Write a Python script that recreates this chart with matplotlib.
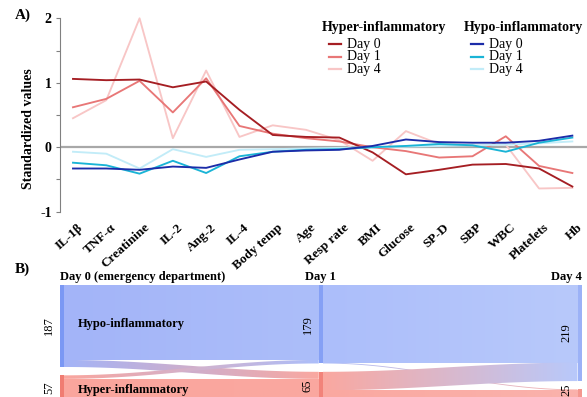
import numpy as np
import matplotlib
matplotlib.use('Agg')
import matplotlib.pyplot as plt
from matplotlib.patches import Polygon, Rectangle
from matplotlib.lines import Line2D
from matplotlib.transforms import ScaledTranslation

plt.rcParams['font.family'] = ['Liberation Serif', 'DejaVu Serif']

# --- data, panel A ---
variables = ['IL-1β', 'TNF-α', 'Creatinine', 'IL-2', 'Ang-2', 'IL-4', 'Body temp', 'Age',
             'Resp rate', 'BMI', 'Glucose', 'SP-D', 'SBP', 'WBC', 'Platelets', 'Hb']
hyper_d0 = [1.06, 1.04, 1.05, 0.93, 1.02, 0.58, 0.19, 0.16, 0.15, -0.08, -0.42, -0.35, -0.27, -0.26, -0.33, -0.61]
hyper_d1 = [0.62, 0.75, 1.03, 0.54, 1.07, 0.33, 0.21, 0.14, 0.09, 0.00, -0.06, -0.16, -0.14, 0.17, -0.29, -0.40]
hyper_d4 = [0.45, 0.73, 2.00, 0.14, 1.19, 0.16, 0.34, 0.27, 0.11, -0.21, 0.25, 0.05, 0.03, 0.04, -0.64, -0.63]
hypo_d0 = [-0.33, -0.33, -0.35, -0.30, -0.32, -0.19, -0.07, -0.05, -0.04, 0.02, 0.12, 0.08, 0.07, 0.07, 0.10, 0.18]
hypo_d1 = [-0.24, -0.28, -0.41, -0.21, -0.40, -0.14, -0.07, -0.04, -0.03, 0.00, 0.02, 0.05, 0.03, -0.07, 0.07, 0.15]
hypo_d4 = [-0.07, -0.10, -0.33, -0.03, -0.15, -0.04, -0.03, -0.02, -0.01, 0.00, 0.01, 0.02, 0.03, 0.04, 0.06, 0.09]

# --- data, panel B ---
day_labels = ['Day 0 (emergency department)', 'Day 1', 'Day 4']
hypo_n = [187, 179, 219]
hyper_n = [57, 65, 25]
# transitions: hypo->hypo, hypo->hyper, hyper->hypo, hyper->hyper
trans_0_1 = [171, 16, 8, 49]
trans_1_4 = [177, 2, 42, 23]

hyper_cols = ['#a51e23', '#e87777', '#f8c6c6']
hypo_cols = ['#1c2ca8', '#1ab4d6', '#c2ecf8']
days_short = ['Day 0', 'Day 1', 'Day 4']

fig = plt.figure(figsize=(5.87, 3.97), dpi=100)
W, H = 587, 397

# ---------------- panel A ----------------
ax = fig.add_axes([60 / W, 1 - 211.7 / H, 527 / W, 193.4 / H])
x = np.arange(len(variables))
ax.axhline(0, color='#a8a8a8', lw=1.6, zorder=1)
for vals, c in zip([hyper_d4, hyper_d1, hyper_d0], hyper_cols[::-1]):
    ax.plot(x, vals, color=c, lw=1.35, clip_on=False, zorder=2)
for vals, c in zip([hypo_d4, hypo_d1, hypo_d0], hypo_cols[::-1]):
    ax.plot(x, vals, color=c, lw=1.35, clip_on=False, zorder=3)

ax.set_xlim(-0.39, 15.44)
ax.set_ylim(-1, 2)
ax.set_yticks([-1, 0, 1, 2])
ax.set_yticks([-0.5, 0.5, 1.5], minor=True)
ax.set_yticklabels(['-1', '0', '1', '2'], fontweight='bold', fontsize=10)
ax.tick_params(axis='y', which='both', length=3, width=0.8, color='#808080', pad=3)
ax.spines['left'].set_color('#808080')
ax.spines['left'].set_linewidth(0.8)
for s in ['top', 'right', 'bottom']:
    ax.spines[s].set_visible(False)
ax.set_xticks(x)
ax.set_xticklabels(variables, rotation=42, rotation_mode='anchor', ha='right', va='top',
                   fontweight='bold', fontsize=9.5)
ax.tick_params(axis='x', length=0, pad=7)
for lab in ax.get_xticklabels():
    lab.set_transform(lab.get_transform() + ScaledTranslation(3 / 72, 0, fig.dpi_scale_trans))
ax.set_ylabel('Standardized values', fontweight='bold', fontsize=10)
ax.yaxis.set_label_coords(-0.047, 0.43)

# legend, drawn by hand: two titled groups
for title, cols, x_title in [('Hyper-inflammatory', hyper_cols, 322),
                             ('Hypo-inflammatory', hypo_cols, 464)]:
    fig.text(x_title / W, 1 - 27 / H, title, fontweight='bold', fontsize=10, va='center')
    for k, (c, lab) in enumerate(zip(cols, days_short)):
        yk = 1 - (44.3 + 12.4 * k) / H
        fig.add_artist(Line2D([(x_title + 7) / W, (x_title + 19) / W], [yk, yk], color=c, lw=1.6))
        fig.text((x_title + 25) / W, yk, lab, fontsize=10, va='center')

fig.text(15 / W, 1 - 15 / H, 'A)', fontweight='bold', fontsize=11, va='center')
fig.text(15 / W, 1 - 269 / H, 'B)', fontweight='bold', fontsize=11, va='center')

# ---------------- panel B ----------------
gap = 19
total = max(h + p for h, p in zip(hypo_n, hyper_n)) + gap + 1
px_per_unit = 0.44
top_px = 284.7
axb = fig.add_axes([60 / W, 1 - (top_px + total * px_per_unit) / H, 521.5 / W,
                    total * px_per_unit / H])
axb.set_axis_off()
bw = 4 / 521.5
bar_left = [i * (1 - bw) / 2 for i in range(3)]
y_label_max = (H - 7 - top_px) / px_per_unit  # keep count labels inside the figure

blue_flow = [np.array([163, 180, 248]) / 255, np.array([172, 190, 250]) / 255,
             np.array([184, 201, 251]) / 255]
red_flow = [np.array([250, 165, 157]) / 255, np.array([250, 168, 160]) / 255,
            np.array([250, 178, 172]) / 255]
blue_bar = ['#7b98f4', '#85a0f5', '#9cb2f7']
red_bar = ['#f07c72', '#f2837a', '#f4978f']


def flow(x0, x1, a0, a1, b0, b1, c0, c1):
    t = np.linspace(0, 1, 80)
    s = (1 - np.cos(np.pi * t)) / 2
    xs = x0 + (x1 - x0) * t
    top = a0 + (b0 - a0) * s
    bot = a1 + (b1 - a1) * s
    verts = np.vstack([np.column_stack([xs, top]), np.column_stack([xs[::-1], bot[::-1]])])
    patch = Polygon(verts, closed=True, facecolor='none', edgecolor='none',
                    transform=axb.transData)
    grad = np.linspace(c0, c1, 256).reshape(1, 256, 3)
    im = axb.imshow(grad, extent=(x0, x1, max(a1, b1), min(a0, b0)), aspect='auto',
                    interpolation='bilinear', zorder=1)
    im.set_clip_path(patch)


for i, tr in enumerate([trans_0_1, trans_1_4]):
    hh, hH, Hh, HH = tr
    x0 = bar_left[i] + bw
    x1 = bar_left[i + 1]
    s_hyp = hypo_n[i] + gap
    t_hyp = hypo_n[i + 1] + gap
    flow(x0, x1, 0, hh, 0, hh, blue_flow[i], blue_flow[i + 1])
    flow(x0, x1, s_hyp + Hh, s_hyp + Hh + HH, t_hyp + hH, t_hyp + hH + HH, red_flow[i], red_flow[i + 1])
    flow(x0, x1, hh, hh + hH, t_hyp, t_hyp + hH, blue_flow[i], red_flow[i + 1])
    flow(x0, x1, s_hyp, s_hyp + Hh, hh, hh + Hh, red_flow[i], blue_flow[i + 1])

for i in range(3):
    axb.add_patch(Rectangle((bar_left[i], 0), bw, hypo_n[i], color=blue_bar[i], lw=0, zorder=3))
    axb.add_patch(Rectangle((bar_left[i], hypo_n[i] + gap), bw, hyper_n[i], color=red_bar[i],
                            lw=0, zorder=3))
    axb.annotate(str(hypo_n[i]), (bar_left[i], hypo_n[i] / 2), xytext=(-3.5, 0),
                 textcoords='offset points', rotation=90, ha='right', va='center', fontsize=9)
    yc = min(hypo_n[i] + gap + hyper_n[i] / 2, y_label_max)
    axb.annotate(str(hyper_n[i]), (bar_left[i], yc), xytext=(-3.5, 0),
                 textcoords='offset points', rotation=90, ha='right', va='center', fontsize=9,
                 annotation_clip=False)

ha_list = ['left', 'center', 'right']
for i, lab in enumerate(day_labels):
    xa = [bar_left[i], bar_left[i] + bw / 2, bar_left[i] + bw][i]
    axb.text(xa, -17, lab, ha=ha_list[i], va='center', fontweight='bold', fontsize=9, clip_on=False)

axb.annotate('Hypo-inflammatory', (bar_left[0], hypo_n[0] / 2 - 4), xytext=(13, 0),
             textcoords='offset points', ha='left', va='center', fontweight='bold', fontsize=9)
axb.annotate('Hyper-inflammatory', (bar_left[0], hypo_n[0] + gap + 34), xytext=(13, 0),
             textcoords='offset points', ha='left', va='center', fontweight='bold', fontsize=9,
             annotation_clip=False)

axb.set_xlim(0, 1)
axb.set_ylim(total, 0)

fig.savefig('out.png', dpi=100)
